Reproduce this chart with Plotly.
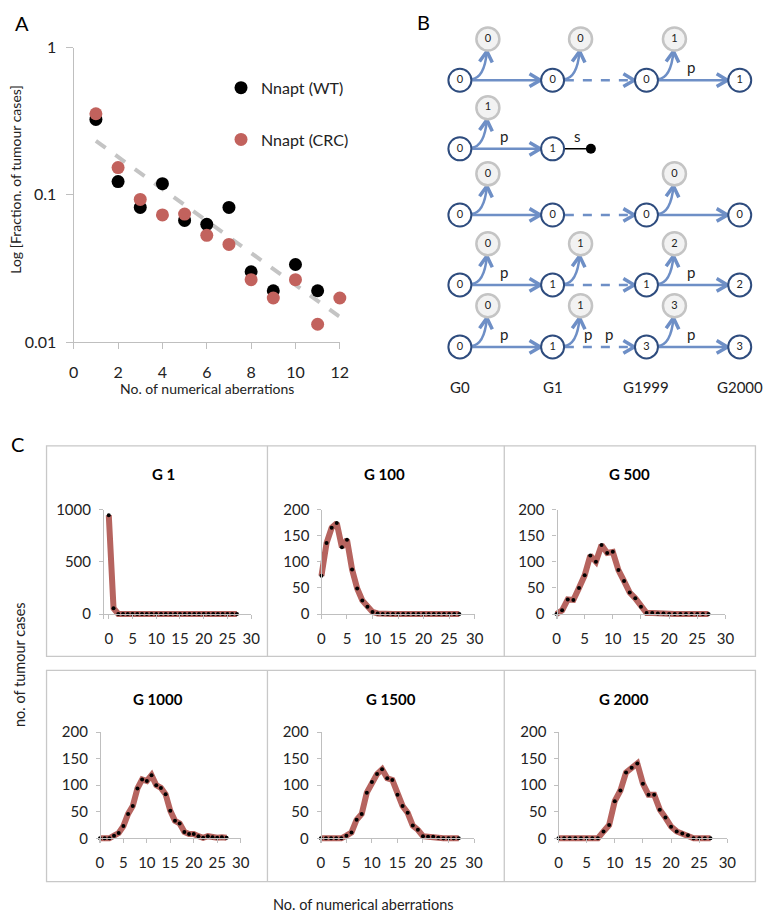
import plotly.graph_objects as go

W, H = 772, 924

# ---------------- Panel A data ----------------
wt_x = [1, 2, 3, 4, 5, 6, 7, 8, 9, 10, 11]
wt_y = [0.325, 0.123, 0.082, 0.119, 0.067, 0.063, 0.082, 0.030, 0.0223, 0.0336, 0.0223]
crc_x = [1, 2, 3, 4, 5, 6, 7, 8, 9, 10, 11, 12]
crc_y = [0.355, 0.153, 0.093, 0.073, 0.074, 0.053, 0.046, 0.0265, 0.0199, 0.0265, 0.0132, 0.0199]
trend_x = [1, 12]
trend_y = [0.232, 0.0148]

# ---------------- Panel B data (schematic) ----------------
b_cols = ["G0", "G1", "G1999", "G2000"]
b_main = [[0, 0, 0, 1], [0, 1, None, None], [0, 0, 0, 0], [0, 1, 1, 2], [0, 1, 3, 3]]
b_daughter = [[0, 0, 1, None], [1, None, None, None], [0, None, 0, None], [0, 1, 2, None], [0, 1, 3, None]]
b_links = [["solid", "dash", "solid"], ["solid", "stop", None], ["solid", "dash", "solid"],
           ["solid", "dash", "solid"], ["solid", "dash", "solid"]]
b_labels = [[[], [], ["p"]], [["p"], ["s"], []], [[], [], []], [["p"], [], ["p"]], [["p"], ["p", "p"], ["p"]]]

# ---------------- Panel C data ----------------
c_x = list(range(28))
g1 = [945, 55, 0, 0, 0, 0, 0, 0, 0, 0, 0, 0, 0, 0, 0, 0, 0, 0, 0, 0, 0, 0, 0, 0, 0, 0, 0, 0]
g100 = [73, 136, 165, 174, 128, 142, 85, 49, 26, 14, 4, 1, 0, 0, 0, 0, 0, 0, 0, 0, 0, 0, 0, 0, 0, 0, 0, 0]
g500 = [0, 7, 28, 27, 50, 74, 112, 100, 132, 117, 119, 84, 63, 41, 30, 14, 2, 2, 1, 1, 0, 0, 0, 0, 0, 0, 0, 0]
g1000 = [0, 0, 0, 5, 10, 23, 46, 61, 94, 111, 108, 119, 100, 95, 83, 52, 33, 28, 12, 8, 8, 4, 1, 4, 2, 1, 2, 1]
g1500 = [0, 0, 0, 0, 0, 5, 11, 35, 46, 86, 106, 121, 130, 113, 110, 82, 61, 48, 24, 16, 4, 3, 3, 1, 0, 0, 0, 0]
g2000 = [0, 0, 0, 0, 0, 0, 0, 0, 13, 25, 70, 90, 124, 133, 141, 103, 82, 82, 54, 39, 22, 13, 9, 6, 0, 0, 0, 0]
c_titles = ["G 1", "G 100", "G 500", "G 1000", "G 1500", "G 2000"]
c_series = [g1, g100, g500, g1000, g1500, g2000]
c_ymax = [1000, 200, 200, 200, 200, 200]
c_yticks = [[0, 500, 1000]] + [[0, 50, 100, 150, 200]] * 5
c_xticks = [0, 5, 10, 15, 20, 25, 30]

FONT = "Lato"
TXT = "#222222"
AXC = "#BFBFBF"


def px(x):
    return x / W


def py(y):
    return 1 - y / H


def label(x, y, text, size, color=TXT, ref="paper", angle=0):
    if ref == "paper":
        x, y, xr, yr = px(x), py(y), "paper", "paper"
    else:
        xr, yr = "x2", "y2"
    return dict(xref=xr, yref=yr, x=x, y=y, text=text, showarrow=False, textangle=angle,
                xanchor="center", yanchor="middle", font=dict(size=size, color=color, family=FONT))


fig = go.Figure()

# ---- Panel A traces
fig.add_trace(go.Scatter(x=trend_x, y=trend_y, mode="lines", showlegend=False,
                         line=dict(color="#C4C4C4", width=4, dash="dash"), xaxis="x", yaxis="y"))
fig.add_trace(go.Scatter(x=wt_x, y=wt_y, mode="markers", name="Nnapt (WT)", legendgroup="wt",
                         marker=dict(color="black", size=13), cliponaxis=False, xaxis="x", yaxis="y"))
fig.add_trace(go.Scatter(x=crc_x, y=crc_y, mode="markers", name="Nnapt (CRC)", legendgroup="crc",
                         marker=dict(color="#C2625D", size=13), cliponaxis=False, xaxis="x", yaxis="y"))

# ---- Panel B (schematic, 1 axis unit = 1 pixel)
col_x = [463.3, 557.7, 653.3, 748.3]
row_y = [71.7, 141.7, 209.3, 280.7, 344.0]
R = 11.5
DX, DY = 28.5, -42
ARROW = "#6E8FC6"
shapes = []


def chevron(tx, ty, ux, uy, L=11, wd=6.5):
    bx, by = tx - ux * L, ty - uy * L
    nx, ny = -uy, ux
    return (f"M {bx + nx * wd:.1f},{by + ny * wd:.1f} L {tx:.1f},{ty:.1f} "
            f"L {bx - nx * wd:.1f},{by - ny * wd:.1f}")


main_x, main_y, main_t = [], [], []
dau_x, dau_y, dau_t = [], [], []
stop_x, stop_y = [], []
b_ann = []
for r, y in enumerate(row_y):
    for c, v in enumerate(b_main[r]):
        if v is None:
            continue
        cx = col_x[c]
        main_x.append(cx)
        main_y.append(y)
        main_t.append(str(v))
        d = b_daughter[r][c]
        if d is not None:
            dau_x.append(cx + DX)
            dau_y.append(y + DY)
            dau_t.append(str(d))
            ex, ey = cx + DX - 1, y + DY + R + 1
            qx, qy = cx + DX - 3.5, y - 2
            shapes.append(dict(type="path", xref="x2", yref="y2", layer="below",
                               path=f"M {cx + R:.1f},{y - 1:.1f} Q {qx:.1f},{qy:.1f} {ex:.1f},{ey:.1f}",
                               line=dict(color=ARROW, width=2.5)))
            ux, uy = ex - qx, ey - qy
            n = (ux ** 2 + uy ** 2) ** 0.5
            shapes.append(dict(type="path", xref="x2", yref="y2", layer="below",
                               path=chevron(ex, ey, ux / n, uy / n), line=dict(color=ARROW, width=3.5)))
    for c, kind in enumerate(b_links[r]):
        if kind is None:
            continue
        x_start = col_x[c] + R + 1
        if kind == "stop":
            x_end = col_x[c] + 39
            shapes.append(dict(type="line", xref="x2", yref="y2", layer="below",
                               x0=x_start, x1=x_end, y0=y, y1=y, line=dict(color="black", width=1.5)))
            stop_x.append(x_end)
            stop_y.append(y)
        else:
            x_end = col_x[c + 1] - R - 1
            shapes.append(dict(type="line", xref="x2", yref="y2", layer="below",
                               x0=x_start, x1=x_end - 3, y0=y, y1=y,
                               line=dict(color=ARROW, width=2.5, dash="dash" if kind == "dash" else "solid")))
            shapes.append(dict(type="path", xref="x2", yref="y2", layer="below",
                               path=chevron(x_end, y, 1, 0), line=dict(color=ARROW, width=3.5)))
        labs = b_labels[r][c]
        fracs = [0.47] if len(labs) == 1 else [0.33, 0.63]
        for lab, f in zip(labs, fracs):
            b_ann.append(label(x_start + f * (x_end - x_start), y - 13, lab, 15, ref="x2"))

for c, name in enumerate(b_cols):
    b_ann.append(label(col_x[c], 385, name, 15, ref="x2"))

fig.add_trace(go.Scatter(x=dau_x, y=dau_y, text=dau_t, mode="markers+text", showlegend=False,
                         textposition="middle center", textfont=dict(size=11, color=TXT, family=FONT),
                         marker=dict(size=23, color="#F2F2F2", line=dict(color="#C4C4C4", width=2.5)),
                         xaxis="x2", yaxis="y2"))
fig.add_trace(go.Scatter(x=main_x, y=main_y, text=main_t, mode="markers+text", showlegend=False,
                         textposition="middle center", textfont=dict(size=11, color=TXT, family=FONT),
                         marker=dict(size=23, color="white", line=dict(color="#2E4C7E", width=2)),
                         xaxis="x2", yaxis="y2"))
fig.add_trace(go.Scatter(x=stop_x, y=stop_y, mode="markers", showlegend=False,
                         marker=dict(size=10, color="black"), xaxis="x2", yaxis="y2"))

# ---- Panel C traces
for i, ys in enumerate(c_series):
    n = i + 3
    fig.add_trace(go.Scatter(x=c_x, y=ys, mode="lines+markers", showlegend=False,
                             line=dict(color="#B6645F", width=6),
                             marker=dict(color="black", size=4),
                             xaxis=f"x{n}", yaxis=f"y{n}"))

# ---------------- Layout ----------------
tickfont_a = dict(size=16, color=TXT, family=FONT)
layout = dict(
    width=W, height=H, margin=dict(l=0, r=0, t=0, b=0),
    paper_bgcolor="white", plot_bgcolor="rgba(0,0,0,0)",
    font=dict(family=FONT, color=TXT),
    showlegend=True,
    legend=dict(x=px(220), y=py(62), xanchor="left", yanchor="top", tracegroupgap=28,
                font=dict(size=16, color=TXT, family=FONT), bgcolor="rgba(0,0,0,0)"),
    xaxis=dict(domain=[px(70), px(341)], range=[0, 12], tickvals=[0, 2, 4, 6, 8, 10, 12],
               showline=True, linecolor=AXC, linewidth=1.3, ticks="outside", ticklen=6, tickcolor=AXC,
               showgrid=False, zeroline=False, tickfont=tickfont_a, ticklabelstandoff=10, anchor="y"),
    yaxis=dict(domain=[py(339), py(38.3)], type="log", range=[-2, 0], tickvals=[0.01, 0.1, 1],
               ticktext=["0.01", "0.1", "1"], showline=True, linecolor=AXC, linewidth=1.3,
               ticks="outside", ticklen=7, tickcolor=AXC, showgrid=False, zeroline=False,
               tickfont=tickfont_a, ticklabelstandoff=6, anchor="x"),
    xaxis2=dict(domain=[px(390), 1], range=[390, 772], visible=False, anchor="y2"),
    yaxis2=dict(domain=[py(400), 1], range=[400, 0], visible=False, anchor="x2"),
)

# panel C axes (pixel geometry: x of 0, x of 30, y of 0, y of top, x-axis minimum)
c_geom = [(105.7, 250.7, 616.7, 510.0, -1.2), (322.3, 478.3, 616.7, 510.0, -0.8),
          (561.7, 733.7, 616.7, 510.0, -0.8), (96.7, 240.0, 845.7, 737.3, -0.8),
          (321.7, 477.7, 845.7, 737.3, -0.8), (563.7, 735.7, 845.7, 737.3, -0.8)]
c_title_pos = [(161.7, 474), (387, 474), (635.7, 474), (156, 703.3), (393, 703.3), (630, 703.3)]
tickfont_c = dict(size=15, color=TXT, family=FONT)
annotations = list(b_ann)
for i in range(6):
    n = i + 3
    x0, x30, y0, ytop, xmin = c_geom[i]
    ppu = (x30 - x0) / 30
    left = x0 + xmin * ppu
    ppy = (y0 - ytop) / c_ymax[i]
    pad = 5
    yaxis_at = left if xmin < -1 else x0
    layout[f"xaxis{n}"] = dict(domain=[px(left), px(x30)], range=[xmin, 30], tickvals=c_xticks,
                               anchor="free", position=py(y0), showline=True, linecolor=AXC,
                               linewidth=1.2, ticks="outside", ticklen=4, tickcolor=AXC,
                               showgrid=False, zeroline=False, tickfont=tickfont_c,
                               ticklabelstandoff=7)
    layout[f"yaxis{n}"] = dict(domain=[py(y0 + pad), py(ytop)], range=[-pad / ppy, c_ymax[i]],
                               tickvals=c_yticks[i], anchor="free", position=px(yaxis_at),
                               showline=True, linecolor=AXC, linewidth=1.2, ticks="outside",
                               ticklen=4, tickcolor=AXC, showgrid=False, zeroline=False,
                               tickfont=tickfont_c, ticklabelstandoff=5)
    tx, ty = c_title_pos[i]
    annotations.append(label(tx, ty, f"<b>{c_titles[i]}</b>", 15, color="black"))

# panel frames for C
frame = "#C8C8C8"
for top, bot in [(445, 660), (674.3, 890)]:
    shapes.append(dict(type="rect", xref="paper", yref="paper", x0=px(42.3), x1=px(764.3),
                       y0=py(bot), y1=py(top), line=dict(color=frame, width=1.3)))
    for xv in (267.3, 508.5):
        shapes.append(dict(type="line", xref="paper", yref="paper", x0=px(xv), x1=px(xv),
                           y0=py(bot), y1=py(top), line=dict(color=frame, width=1.3)))

# text annotations
annotations += [
    label(17, 13, "A", 20, color="black"),
    label(426, 12, "B", 20, color="black"),
    label(13, 443, "C", 20, color="black"),
    label(205.5, 386, "No. of numerical aberrations", 14),
    label(11, 173.5, "Log [Fraction. of tumour cases]", 14, angle=-90),
    label(365, 913, "No. of numerical aberrations", 14.5),
    label(15, 668, "no. of tumour cases", 14.5, angle=-90),
]
layout["annotations"] = annotations
layout["shapes"] = shapes

fig.update_layout(**layout)
fig.write_html("out.html", config={"displayModeBar": False},
               post_script="document.body.style.margin='0';")
